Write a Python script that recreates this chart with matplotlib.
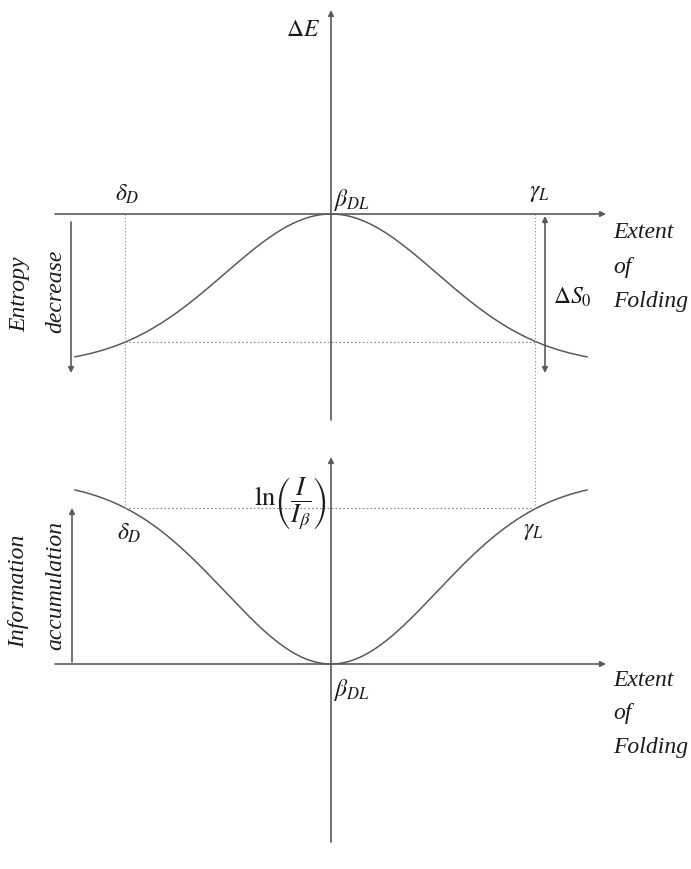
import numpy as np
import matplotlib
matplotlib.use("Agg")
import matplotlib.pyplot as plt

plt.rcParams['mathtext.fontset'] = 'stix'
plt.rcParams['font.family'] = ['Liberation Serif', 'DejaVu Serif']

# Landmarks along the folding coordinate (beta at the origin)
x_delta, x_beta, x_gamma = -206.0, 0.0, 204.0
x_span = (-256.0, 256.0)
# Gaussian shape of the energy / information curves
energy_depth = 151.0
info_depth = 184.0
curve_width = 106.0

# Vertical placement of the two panels (screen units, downward positive)
top_axis_y = 214.0
bottom_axis_y = 664.0
origin_x = 331.0

LINE = '#5a5a5a'
TXT = '#1a1a1a'

fig = plt.figure(figsize=(6.91, 8.69), dpi=100)
ax = fig.add_axes([0, 0, 1, 1])
ax.set_xlim(0, 691)
ax.set_ylim(869, 0)
ax.axis('off')


def shape(x):
    return 1 - np.exp(-np.asarray(x)**2 / (2 * curve_width**2))


xs = np.linspace(x_span[0], x_span[1], 400)
energy = top_axis_y + energy_depth * shape(xs)
info = bottom_axis_y - info_depth * shape(xs)

ax.plot(origin_x + xs, energy, color=LINE, lw=1.1)
ax.plot(origin_x + xs, info, color=LINE, lw=1.1)

e_lvl = top_axis_y + energy_depth * shape(x_delta)
i_lvl = bottom_axis_y - info_depth * shape(x_delta)


def arrow(x0, y0, x1, y1, style='-|>', lw=1.2):
    ax.annotate('', xy=(x1, y1), xytext=(x0, y0),
                arrowprops=dict(arrowstyle=style, color=LINE, lw=lw,
                                mutation_scale=8, shrinkA=0, shrinkB=0))


# Axes of both panels
arrow(55, top_axis_y, 606, top_axis_y)
arrow(origin_x, 420, origin_x, 10)
arrow(55, bottom_axis_y, 606, bottom_axis_y)
arrow(origin_x, 842, origin_x, 457)

# Dotted guide lines linking the two panels
for xm in (x_delta, x_gamma):
    ax.plot([origin_x + xm] * 2, [top_axis_y, i_lvl], color='#888888',
            lw=0.8, ls=(0, (1, 2)))
ax.plot([origin_x + x_delta, origin_x + x_gamma], [e_lvl, e_lvl],
        color='#888888', lw=0.8, ls=(0, (1.5, 2)))
ax.plot([origin_x + x_delta, origin_x + x_gamma], [i_lvl, i_lvl],
        color='#888888', lw=0.8, ls=(0, (1.5, 2)))

# Side arrows
arrow(71, 222, 71, 373)
arrow(545, 373, 545, 216, style='<|-|>')
arrow(72, 662, 72, 508)

fs = 17
# Top panel labels
ax.text(303, 30, r'$\Delta E$', fontsize=fs, color=TXT, ha='center', va='center')
ax.text(352, 200, r'$\beta_{DL}$', fontsize=fs, color=TXT, ha='center', va='center')
ax.text(127, 194, r'$\delta_{D}$', fontsize=fs, color=TXT, ha='center', va='center')
ax.text(539, 194, r'$\gamma_{L}$', fontsize=fs, color=TXT, ha='center', va='center')
ax.text(572, 297, r'$\Delta S_0$', fontsize=fs, color=TXT, ha='center', va='center')

for y0 in (233, 680):
    for k, word in enumerate(['Extent', 'of', 'Folding']):
        ax.text(613, y0 + 34 * k, word, fontsize=fs, style='italic',
                color=TXT, ha='left', va='center')

ax.text(20, 294, 'Entropy', fontsize=fs, style='italic', color=TXT,
        rotation=90, ha='center', va='center')
ax.text(56, 291, 'decrease', fontsize=fs, style='italic', color=TXT,
        rotation=90, ha='center', va='center')

# Bottom panel labels
ax.text(291, 504, r'$\mathrm{ln}\left(\dfrac{I}{I_{\beta}}\right)$', fontsize=19,
        color=TXT, ha='center', va='center')
ax.text(129, 533, r'$\delta_{D}$', fontsize=fs, color=TXT, ha='center', va='center')
ax.text(533, 531, r'$\gamma_{L}$', fontsize=fs, color=TXT, ha='center', va='center')
ax.text(352, 690, r'$\beta_{DL}$', fontsize=fs, color=TXT, ha='center', va='center')
ax.text(19, 591, 'Information', fontsize=fs, style='italic', color=TXT,
        rotation=90, ha='center', va='center')
ax.text(56, 585, 'accumulation', fontsize=fs, style='italic', color=TXT,
        rotation=90, ha='center', va='center')

fig.savefig('out.png', dpi=100)
